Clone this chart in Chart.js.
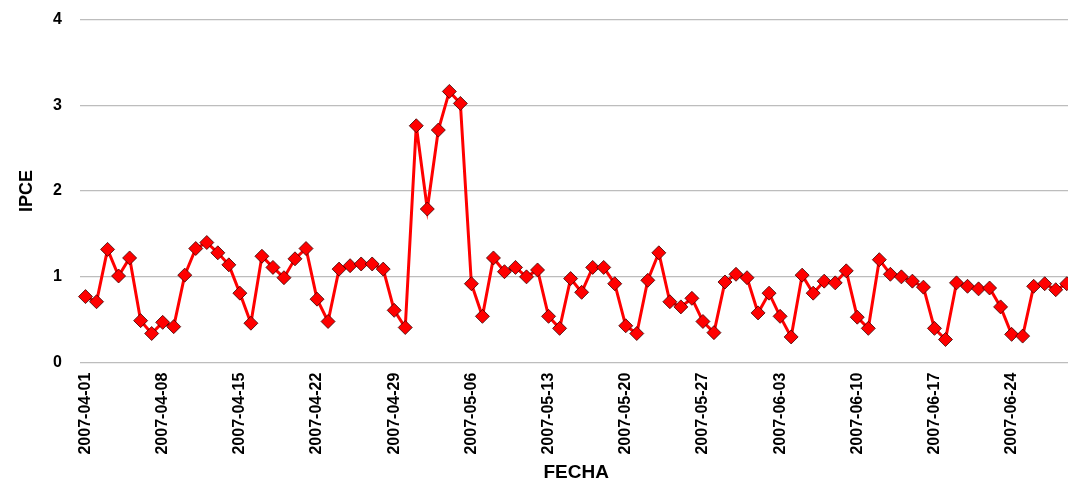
<!DOCTYPE html>
<html>
<head>
<meta charset="utf-8">
<script src="https://cdn.jsdelivr.net/npm/chart.js@4.4.1/dist/chart.umd.min.js"></script>
<style>
  html, body { margin: 0; padding: 0; background: #fff; overflow: hidden; }
  #wrap { width: 1086px; height: 484px; }
</style>
</head>
<body>
<div id="wrap"><canvas id="myChart"></canvas></div>
<script>
// IPCE diario, abril - junio 2007

const startDate = '2007-04-01';
const tickLabels = ['2007-04-01', '2007-04-08', '2007-04-15', '2007-04-22', '2007-04-29', '2007-05-06', '2007-05-13',
    '2007-05-20', '2007-05-27', '2007-06-03', '2007-06-10', '2007-06-17', '2007-06-24'];
const yTicks = [0, 1, 2, 3, 4];

const ipce = [
    0.77, 0.71, 1.32, 1.01, 1.22, 0.49, 0.34, 0.47, 0.42, 1.02,
    1.33, 1.40, 1.28, 1.14, 0.81, 0.46, 1.24, 1.11, 0.99, 1.21,
    1.33, 0.74, 0.48, 1.09, 1.13, 1.15, 1.15, 1.09, 0.61, 0.41,
    2.76, 1.79, 2.71, 3.16, 3.02, 0.92, 0.54, 1.22, 1.06, 1.11,
    1.00, 1.08, 0.54, 0.40, 0.98, 0.82, 1.11, 1.11, 0.92, 0.43,
    0.34, 0.96, 1.28, 0.71, 0.65, 0.75, 0.48, 0.35, 0.94, 1.03,
    0.99, 0.58, 0.81, 0.54, 0.30, 1.02, 0.81, 0.95, 0.93, 1.07,
    0.53, 0.40, 1.20, 1.03, 1.00, 0.95, 0.88, 0.40, 0.27, 0.93,
    0.89, 0.86, 0.87, 0.65, 0.33, 0.31, 0.89, 0.92, 0.85, 0.92
];

// one category per day
const fechas = [];
const d0 = new Date(startDate + 'T00:00:00Z');
for (let i = 0; i < ipce.length; i++) {
    const d = new Date(d0.getTime() + i * 86400000);
    fechas.push(d.toISOString().slice(0, 10));
}

const boldFont = (size) => ({ family: '"Liberation Sans", Arial, sans-serif', weight: 'bold', size: size });

const ctx = document.getElementById('myChart').getContext('2d');
const myChart = new Chart(ctx, {
    type: 'line',
    data: {
        labels: fechas,
        datasets: [{
            label: 'IPCE',
            data: ipce,
            borderColor: '#ff0000',
            borderWidth: 3,
            backgroundColor: '#ff0000',
            pointStyle: 'rectRot',
            pointRadius: 7,
            pointBackgroundColor: '#ff0000',
            pointBorderColor: '#3a0000',
            pointBorderWidth: 0.8,
            tension: 0
        }]
    },
    options: {
        responsive: true,
        maintainAspectRatio: false,
        animation: false,
        layout: { padding: { top: 19.3, right: 0, bottom: 0, left: 0 } },
        plugins: {
            legend: { display: false },
            tooltip: { enabled: false }
        },
        scales: {
            x: {
                offset: true,
                // tick marks only used as spacing under the plot
                grid: { display: false, drawTicks: true, tickLength: 10 },
                border: { display: false },
                ticks: {
                    autoSkip: false,
                    maxRotation: 90,
                    minRotation: 90,
                    padding: 0,
                    color: '#000',
                    font: boldFont(16),
                    callback: function (value) {
                        const lbl = this.getLabelForValue(value);
                        return tickLabels.includes(lbl) ? lbl : '';
                    }
                },
                title: {
                    display: true,
                    text: 'FECHA',
                    color: '#000',
                    font: boldFont(19),
                    padding: { top: 0, bottom: 0 }
                },
                afterFit: (scale) => { scale.height = 121.3; }
            },
            y: {
                min: 0,
                max: 4,
                grid: { color: '#bdbdbd', lineWidth: 1.2, drawTicks: true, tickLength: 18, tickColor: 'rgba(0,0,0,0)' },
                border: { display: false },
                ticks: {
                    stepSize: 1,
                    padding: 0,
                    color: '#000',
                    font: boldFont(16),
                    callback: (v) => yTicks.includes(v) ? v : ''
                },
                title: {
                    display: true,
                    text: 'IPCE',
                    color: '#000',
                    font: boldFont(18),
                    padding: { top: 16, bottom: 0 }
                },
                afterFit: (scale) => { scale.width = 80; }
            }
        }
    }
});
</script>
</body>
</html>
